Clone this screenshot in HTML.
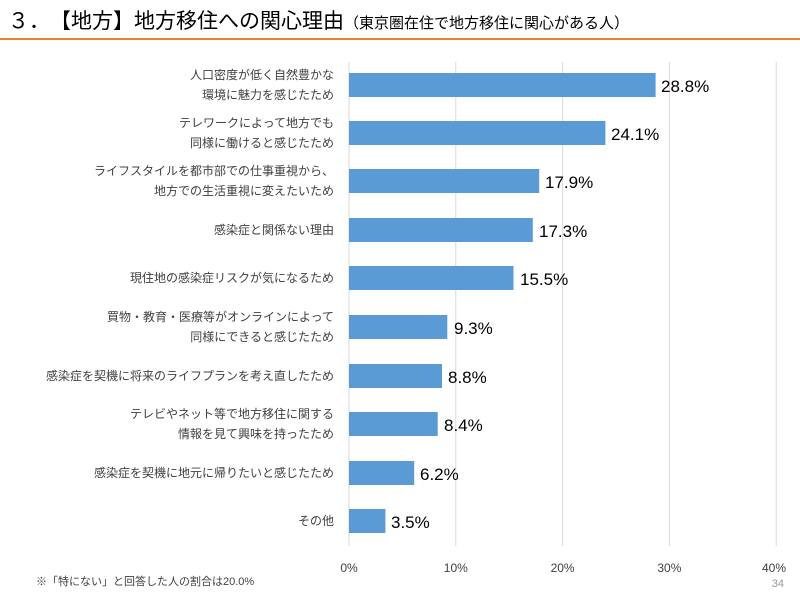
<!DOCTYPE html>
<html><head><meta charset="utf-8"><style>
body{margin:0;background:#fff;}
svg{display:block;font-family:"Liberation Sans","Noto Sans CJK JP",sans-serif;}
</style></head><body>
<svg width="800" height="600" viewBox="0 0 800 600" xmlns="http://www.w3.org/2000/svg">
<rect width="800" height="600" fill="#fff"/>
<text x="8" y="28" font-size="21" fill="#000">３．　【地方】地方移住への関心理由<tspan font-size="15">（東京圏在住で地方移住に関心がある人）</tspan></text>
<rect x="0" y="38" width="800" height="2" fill="#ED7D31"/>
<g stroke="#d9d9d9" stroke-width="1">
<line x1="349" y1="62" x2="349" y2="546"/>
<line x1="455.8" y1="62" x2="455.8" y2="546"/>
<line x1="562.6" y1="62" x2="562.6" y2="546"/>
<line x1="669.4" y1="62" x2="669.4" y2="546"/>
<line x1="776.2" y1="62" x2="776.2" y2="546"/>
</g>
<g font-size="12" fill="#404040" text-anchor="middle">
<text x="349" y="572">0%</text><text x="455.8" y="572">10%</text><text x="562.6" y="572">20%</text><text x="669.4" y="572">30%</text><text x="774" y="572">40%</text>
</g>
<g fill="#5B9BD5">
<rect x="349" y="73" width="306.6" height="24"/>
<rect x="349" y="121" width="256.4" height="24"/>
<rect x="349" y="169" width="190.2" height="24"/>
<rect x="349" y="218" width="183.8" height="24"/>
<rect x="349" y="266" width="164.5" height="24"/>
<rect x="349" y="315" width="98.3" height="24"/>
<rect x="349" y="364" width="93" height="24"/>
<rect x="349" y="412" width="88.7" height="24"/>
<rect x="349" y="461" width="65.2" height="24"/>
<rect x="349" y="509" width="36.4" height="24"/>
</g>
<g font-size="17" fill="#000">
<text x="661" y="92">28.8%</text>
<text x="611" y="140">24.1%</text>
<text x="545" y="188">17.9%</text>
<text x="539" y="237">17.3%</text>
<text x="520" y="285">15.5%</text>
<text x="454" y="334">9.3%</text>
<text x="448" y="383">8.8%</text>
<text x="444" y="431">8.4%</text>
<text x="420" y="480">6.2%</text>
<text x="391" y="528">3.5%</text>
</g>
<g font-size="12" fill="#404040" text-anchor="end">
<text x="334" y="79">人口密度が低く自然豊かな</text><text x="334" y="99">環境に魅力を感じたため</text>
<text x="334" y="127">テレワークによって地方でも</text><text x="334" y="147">同様に働けると感じたため</text>
<text x="334" y="175">ライフスタイルを都市部での仕事重視から、</text><text x="334" y="195">地方での生活重視に変えたいため</text>
<text x="334" y="234">感染症と関係ない理由</text>
<text x="334" y="282">現住地の感染症リスクが気になるため</text>
<text x="334" y="321">買物・教育・医療等がオンラインによって</text><text x="334" y="341">同様にできると感じたため</text>
<text x="334" y="380">感染症を契機に将来のライフプランを考え直したため</text>
<text x="334" y="418">テレビやネット等で地方移住に関する</text><text x="334" y="438">情報を見て興味を持ったため</text>
<text x="334" y="477">感染症を契機に地元に帰りたいと感じたため</text>
<text x="334" y="525">その他</text>
</g>
<text x="36" y="585" font-size="11" fill="#404040">※「特にない」と回答した人の割合は20.0%</text>
<text x="784" y="587" font-size="11" fill="#999" text-anchor="end">34</text>
</svg>
</body></html>
